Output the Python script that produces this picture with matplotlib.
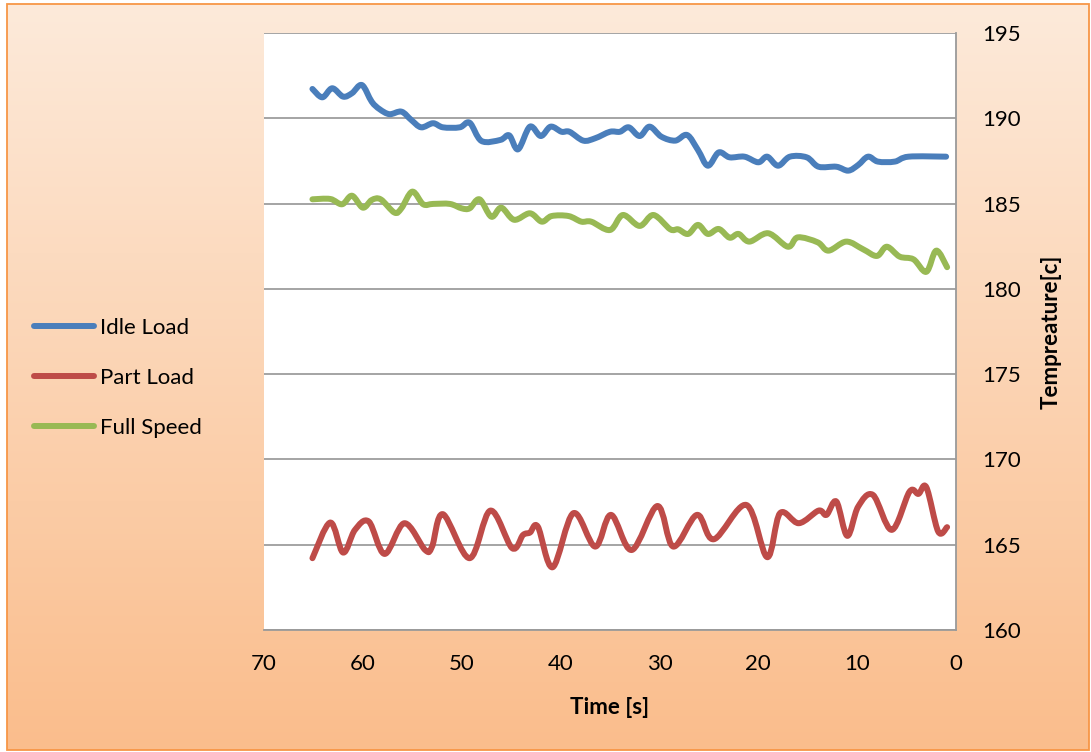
import numpy as np
import matplotlib
matplotlib.use("Agg")
import matplotlib.pyplot as plt
from matplotlib.path import Path
from matplotlib.patches import PathPatch, Rectangle
from matplotlib.lines import Line2D

plt.rcParams["font.family"] = ["Lato", "DejaVu Sans"]

# series: time [s] and temperature [c]
idle_t = [65.1, 64.1, 63.1, 62.0, 61.1, 60.1, 59.1, 58.3, 57.3, 56.1, 55.1, 54.1, 52.9,
          51.9, 50.2, 49.2, 48.0, 46.1, 45.2, 44.3, 43.1, 42.0, 41.0, 39.9, 39.1, 37.7,
          36.5, 35.0, 34.0, 33.1, 32.0, 31.0, 29.8, 28.4, 27.2, 26.1, 25.1, 24.0, 22.9,
          21.4, 20.0, 19.1, 18.0, 16.8, 15.1, 13.9, 12.1, 10.9, 9.9, 8.9, 7.9, 6.2, 4.8, 1.0]
idle_v = [191.72, 191.23, 191.76, 191.27, 191.47, 191.95, 190.97, 190.53, 190.24, 190.39,
          189.90, 189.47, 189.71, 189.47, 189.47, 189.74, 188.67, 188.73, 189.00, 188.18,
          189.51, 188.96, 189.51, 189.21, 189.21, 188.69, 188.83, 189.21, 189.21, 189.47,
          188.96, 189.51, 188.92, 188.69, 189.02, 188.14, 187.22, 188.00, 187.71, 187.75,
          187.42, 187.75, 187.22, 187.75, 187.71, 187.16, 187.16, 186.93, 187.26, 187.75,
          187.46, 187.46, 187.75, 187.75]

part_t = [65.1, 63.3, 62.0, 60.8, 59.4, 57.8, 55.8, 53.7, 53.0, 51.9, 49.2, 47.1, 44.9,
          43.8, 43.1, 42.3, 40.8, 38.7, 36.5, 34.9, 32.8, 30.2, 28.6, 26.2, 24.5, 21.2,
          19.1, 17.8, 15.9, 13.9, 13.1, 12.1, 11.0, 9.9, 8.4, 6.5, 4.7, 3.8, 3.0, 1.8, 0.9]
part_v = [164.21, 166.30, 164.54, 165.87, 166.36, 164.46, 166.26, 164.69, 164.89, 166.79,
          164.21, 167.00, 164.80, 165.57, 165.71, 166.06, 163.68, 166.85, 164.89, 166.75,
          164.69, 167.27, 164.89, 166.75, 165.32, 167.33, 164.27, 166.85, 166.26, 167.00,
          166.75, 167.53, 165.52, 167.23, 167.92, 165.87, 168.11, 167.98, 168.37, 165.77,
          166.03]

full_t = [65.1, 63.3, 62.1, 61.1, 60.0, 59.1, 58.2, 56.8, 56.1, 55.0, 53.9, 52.9, 51.2,
          50.0, 49.2, 48.2, 47.0, 46.0, 44.7, 43.1, 41.9, 40.9, 39.2, 37.9, 36.9, 35.0,
          33.7, 32.0, 30.6, 28.9, 28.1, 27.1, 26.1, 25.1, 24.0, 22.9, 22.0, 20.9, 19.0,
          17.0, 16.0, 14.0, 12.9, 11.1, 9.4, 8.0, 7.0, 5.7, 4.3, 3.0, 2.0, 0.9]
full_v = [185.25, 185.27, 184.96, 185.46, 184.76, 185.21, 185.25, 184.47, 184.72, 185.70,
          184.96, 184.98, 184.98, 184.72, 184.72, 185.25, 184.23, 184.76, 184.05, 184.43,
          183.94, 184.27, 184.27, 183.94, 183.94, 183.45, 184.33, 183.69, 184.33, 183.49,
          183.49, 183.22, 183.75, 183.22, 183.51, 183.00, 183.22, 182.77, 183.26, 182.47,
          183.02, 182.73, 182.24, 182.77, 182.32, 181.93, 182.47, 181.89, 181.73, 181.00,
          182.24, 181.27]

series = [("Idle Load", idle_t, idle_v, "#4A7EBB"),
          ("Part Load", part_t, part_v, "#BE4B48"),
          ("Full Speed", full_t, full_v, "#98B954")]

x_ticks = [70, 60, 50, 40, 30, 20, 10, 0]
y_ticks = [160, 165, 170, 175, 180, 185, 190, 195]

LW = 4.3


def smooth_path(x, y):
    # Catmull-Rom through the points, written as cubic Bezier segments
    p = np.column_stack([x, y]).astype(float)
    ext = np.vstack([p[0], p, p[-1]])
    verts = [p[0]]
    codes = [Path.MOVETO]
    for i in range(1, len(ext) - 2):
        p0, p1, p2, p3 = ext[i - 1], ext[i], ext[i + 1], ext[i + 2]
        verts += [p1 + (p2 - p0) / 6.0, p2 - (p3 - p1) / 6.0, p2]
        codes += [Path.CURVE4] * 3
    return Path(verts, codes)


fig = plt.figure(figsize=(10.91, 7.52), dpi=100)

# chart area: vertical peach-to-orange fill with an orange frame
bg = fig.add_axes([0, 0, 1, 1], zorder=-5)
bg.set_xlim(0, 1091)
bg.set_ylim(752, 0)
bg.axis("off")
top = np.array([253, 234, 218]) / 255.0
bot = np.array([250, 189, 140]) / 255.0
f = np.linspace(0, 1, 256)[:, None, None]
grad = (top * (1 - f) + bot * f).repeat(2, axis=1)
bg.imshow(grad, extent=[7, 1089, 750, 4], aspect="auto", interpolation="bilinear")
bg.add_patch(Rectangle((7, 4), 1082, 746, fill=False, edgecolor="#F79646", lw=1.3))

ax = fig.add_axes([264 / 1091, 1 - 630 / 752, 692 / 1091, 597 / 752])
ax.set_facecolor("white")
ax.set_xlim(70, 0)
ax.set_ylim(160, 195)
ax.set_xticks(x_ticks)
ax.set_yticks(y_ticks)
ax.yaxis.tick_right()
ax.yaxis.set_label_position("right")
ax.tick_params(axis="both", length=0, labelsize=16)
ax.tick_params(axis="x", pad=17)
ax.tick_params(axis="y", pad=19)
ax.grid(axis="y", color="#8C8C8C", lw=1.1)
ax.set_axisbelow(True)
for side in ["left", "top"]:
    ax.spines[side].set_visible(False)
for side in ["right", "bottom"]:
    ax.spines[side].set_color("#9A9A9A")
    ax.spines[side].set_linewidth(1.3)

handles = []
for name, t, v, color in series:
    ax.add_patch(PathPatch(smooth_path(t, v), fill=False, edgecolor=color, lw=LW,
                           capstyle="round", joinstyle="round", zorder=3))
    handles.append(Line2D([], [], color=color, lw=LW, solid_capstyle="round", label=name))

ax.set_xlabel("Time [s]", fontsize=16, fontweight="bold", labelpad=17)
ax.set_ylabel("Tempreature[c]", fontsize=16, fontweight="bold", labelpad=14)

fig.legend(handles=handles, loc="center left", bbox_to_anchor=(0.031, 0.497),
           frameon=False, fontsize=16, handlelength=2.7, handletextpad=0.3,
           labelspacing=1.35, borderpad=0, borderaxespad=0)

fig.savefig("out.png", dpi=100)
